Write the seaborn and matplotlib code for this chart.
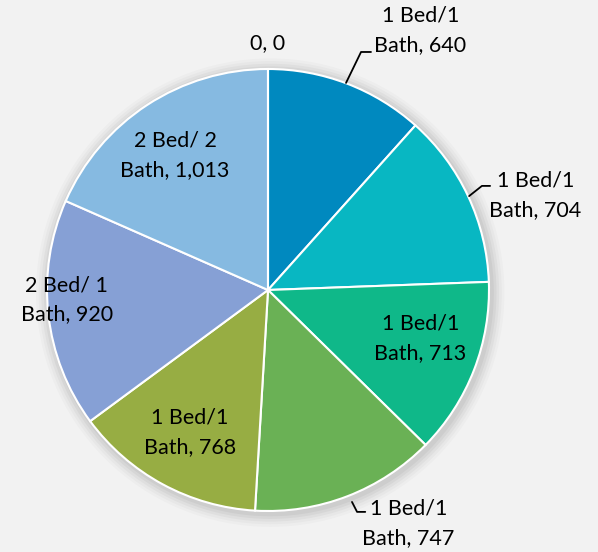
import matplotlib.pyplot as plt
import seaborn as sns

sns.set_theme(style="white")
plt.rcParams['font.family'] = ['Lato', 'DejaVu Sans']

# data
units = ['1 Bed/1\nBath', '1 Bed/1\nBath', '1 Bed/1\nBath', '1 Bed/1\nBath',
         '1 Bed/1\nBath', '2 Bed/ 1\nBath', '2 Bed/ 2\nBath', '0']
sqft = [640, 704, 713, 747, 768, 920, 1013, 0]
colors = ['#0089BF', '#08B7C2', '#0FB889', '#6AB155', '#97AD43',
          '#86A0D5', '#86BAE1', '#86BAE1']

# label placement (in pie-radius units) and optional leader lines
label_pos = [(0.69, 1.175), (1.21, 0.43), (0.69, -0.217), (0.635, -1.055),
             (-0.353, -0.643), (-0.91, -0.045), (-0.421, 0.611), (0.0, 1.118)]
leaders = {0: [(0.353, 0.937), (0.421, 1.077), (0.466, 1.077)],
           1: [(0.91, 0.425), (0.968, 0.471), (1.005, 0.471)],
           3: [(0.38, -0.959), (0.403, -1.004), (0.44, -1.004)]}

fig = plt.figure(figsize=(5.98, 5.52), dpi=100)
fig.patch.set_facecolor('#F2F2F2')
ax = fig.add_axes([0, 0, 1, 1])
ax.set_facecolor('#F2F2F2')

# soft shadow under the pie
for i, a in enumerate([0.035, 0.035, 0.03, 0.025, 0.02]):
    ax.add_patch(plt.Circle((0.01, -0.012), 1.0 + 0.012 * (i + 1), color='black',
                            alpha=a, lw=0, zorder=0))

wedges, _ = ax.pie(sqft, colors=colors, startangle=90, counterclock=False,
                   radius=1.0, wedgeprops=dict(edgecolor='white', linewidth=1.5))
for w in wedges:
    w.set_zorder(2)

for i, (name, val) in enumerate(zip(units, sqft)):
    txt = f"{name}, {val:,}"
    ax.text(label_pos[i][0], label_pos[i][1], txt, ha='center', va='center',
            fontsize=15.5, color='black', linespacing=1.58, zorder=5)
    if i in leaders:
        xs, ys = zip(*leaders[i])
        ax.plot(xs, ys, color='black', lw=1.3, zorder=4)

ax.set_xlim(-268 / 221, 330 / 221)
ax.set_ylim(-262 / 221, 290 / 221)
ax.set_aspect('auto')
ax.axis('off')

fig.savefig('out.png', dpi=100, facecolor=fig.get_facecolor())
